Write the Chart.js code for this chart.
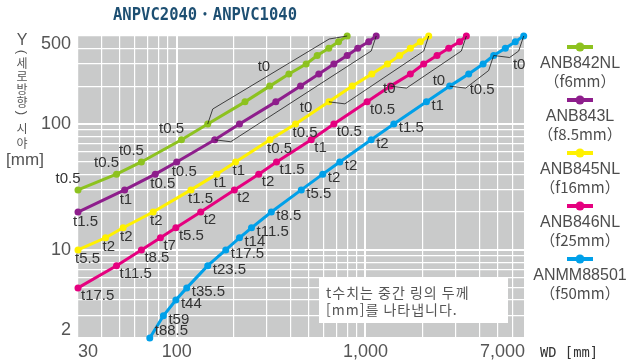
<!DOCTYPE html>
<html lang="ko">
<head>
<meta charset="utf-8">
<title>ANPVC2040・ANPVC1040</title>
<script src="https://cdn.jsdelivr.net/npm/chart.js@4.4.1/dist/chart.umd.min.js"></script>
<style>
  html, body { margin: 0; padding: 0; background: #fff; }
  canvas { display: block; }
</style>
</head>
<body>
<canvas id="fovChart" width="628" height="364"></canvas>
<script>
'use strict';

const lensNames = ['ANB842NL', 'ANB843L', 'ANB845NL', 'ANB846NL', 'ANMM88501'];
const lensFocal = ['（f6mm）', '（f8.5mm）', '（f16mm）', '（f25mm）', '（f50mm）'];
const lensColors = ['#8dc21f', '#8e1e8c', '#fff100', '#e5007f', '#00a0e9'];

// WD [mm], vertical field of view Y [mm], middle ring thickness at each point
const wd842 = [30, 48, 65, 106, 146, 230, 311, 393, 485, 555, 639, 720, 800];
const fov842 = [30, 40, 50, 75, 100, 150, 200, 250, 300, 350, 400, 450, 500];
const ring842 = ['t0.5', 't0.5', 't0.5', 't0.5'];
const ringGroups842 = [{ from: 4, to: 12, text: 't0' }];

const wd843 = [30, 53, 77, 100, 159, 215, 335, 453, 566, 680, 800, 910, 1040, 1140];
const fov843 = [20, 30, 40, 50, 75, 100, 150, 200, 250, 300, 350, 400, 450, 500];
const ring843 = ['t1.5', 't1', 't0.5', 't0.5'];
const ringGroups843 = [{ from: 4, to: 13, text: 't0' }];

const wd845 = [30, 42, 52, 75, 119, 163, 205, 312, 426, 640, 851, 1080, 1307, 1517, 1729, 1953, 2163];
const fov845 = [10, 12.5, 15, 20, 30, 40, 50, 75, 100, 150, 200, 250, 300, 350, 400, 450, 500];
const ring845 = ['t5.5', 't2', 't2', 't2', 't1.5', 't1', 't1', 't0.5', 't0.5'];
const ringGroups845 = [{ from: 9, to: 16, text: 't0' }];

const wd846 = [30, 48, 65, 82, 99, 134, 202, 272, 338, 516, 680, 1020, 1356, 1729, 2033, 2393, 2760, 3155, 3423];
const fov846 = [5, 7.5, 10, 12.5, 15, 20, 30, 40, 50, 75, 100, 150, 200, 250, 300, 350, 400, 450, 500];
const ring846 = ['t17.5', 't11.5', 't8.5', 't7', 't5.5', 't2', 't2', 't2', 't1.5', 't1', 't0.5', 't0.5'];
const ringGroups846 = [{ from: 12, to: 18, text: 't0' }];

const wd88501 = [72, 85, 99, 113, 146, 182, 215, 249, 317, 457, 594, 731, 1072, 1413, 2104, 2794, 3522, 4198, 4776, 5508, 6220, 6890];
const fov88501 = [2, 3, 4, 5, 7.5, 10, 12.5, 15, 20, 30, 40, 50, 75, 100, 150, 200, 250, 300, 350, 400, 450, 500];
const ring88501 = ['t88.5', 't59', 't44', 't35.5', 't23.5', 't17.5', 't14', 't11.5', 't8.5', 't5.5', 't2', 't2', 't2', 't1.5', 't1'];
const ringGroups88501 = [{ from: 15, to: 18, text: 't0.5' }, { from: 18, to: 21, text: 't0' }];

const xTickLabels = [30, 100, 1000, 7000];
const yTickLabels = [2, 10, 100, 500];

const noteLines = ['t수치는 중간 링의 두께', '[mm]를 나타냅니다.'];

const SANS = '"Liberation Sans", Arial, sans-serif';
const KR = '"Noto Sans CJK KR", "Liberation Sans", sans-serif';
const JP = '"Noto Sans CJK JP", "Liberation Sans", sans-serif';

// where the thickness labels sit around each point
const ringStyle = [
  { align: 'center', dx: -10, dy: -11, side: 'above' },
  { align: 'left', dx: -5, dy: 10, side: 'below' },
  { align: 'left', dx: -3, dy: 9, side: 'below' },
  { align: 'left', dx: 3, dy: 8, side: 'below' },
  { align: 'left', dx: 5, dy: 4, side: 'below' }
];

const series = [
  [wd842, fov842, ring842, ringGroups842],
  [wd843, fov843, ring843, ringGroups843],
  [wd845, fov845, ring845, ringGroups845],
  [wd846, fov846, ring846, ringGroups846],
  [wd88501, fov88501, ring88501, ringGroups88501]
];

const datasets = series.map(([xs, ys, rings, groups], i) => ({
  label: lensNames[i],
  focal: lensFocal[i],
  data: xs.map((x, k) => ({ x: x, y: ys[k] })),
  rings: rings,
  groups: groups,
  ringStyle: ringStyle[i],
  borderColor: lensColors[i],
  backgroundColor: lensColors[i],
  pointBackgroundColor: lensColors[i],
  borderWidth: 3,
  pointRadius: 3.5,
  pointBorderWidth: 0,
  tension: 0,
  clip: false
}));

// grid at every 1..9 step of each decade
function logGrid(min, max) {
  const out = [];
  for (let d = 1; d <= 10000; d *= 10) {
    for (let m = 1; m < 10; m++) {
      const v = m * d;
      if (v >= min && v <= max) out.push({ value: v });
    }
  }
  return out;
}

function isDecade(v) {
  return Math.abs(Math.log10(v) - Math.round(Math.log10(v))) < 1e-9;
}

function drawCondensed(ctx, text, x, y, width) {
  const w = ctx.measureText(text).width;
  ctx.save();
  ctx.translate(x, y);
  ctx.scale(width / w, 1);
  ctx.fillText(text, 0, 0);
  ctx.restore();
}

function drawTurned(ctx, text, x, y) {
  ctx.save();
  ctx.translate(x, y);
  ctx.rotate(Math.PI / 2);
  ctx.fillText(text, 0, 0);
  ctx.restore();
}

const plotBackground = {
  id: 'plotBackground',
  beforeDraw(chart) {
    const { ctx, chartArea: a } = chart;
    ctx.save();
    ctx.fillStyle = '#c9caca';
    ctx.fillRect(a.left, a.top, a.right - a.left, a.bottom - a.top);
    ctx.restore();
  }
};

const ringLabels = {
  id: 'ringLabels',
  afterDatasetsDraw(chart) {
    const { ctx, chartArea } = chart;
    ctx.save();
    ctx.font = '15px ' + SANS;
    ctx.fillStyle = '#333';
    ctx.textBaseline = 'middle';
    chart.data.datasets.forEach((ds, di) => {
      const pts = chart.getDatasetMeta(di).data;
      const st = ds.ringStyle;
      ctx.textAlign = st.align;
      ds.rings.forEach((txt, k) => {
        const p = pts[k];
        const y = Math.min(p.y + st.dy, chartArea.bottom - 7);
        ctx.fillText(txt, p.x + st.dx, y);
      });

      // bracket lines for runs of points sharing one thickness
      ctx.strokeStyle = '#1a1a1a';
      ctx.lineWidth = 0.8;
      ds.groups.forEach(g => {
        const a = pts[g.from], b = pts[g.to];
        let p1, p2, lx, ly;
        if (st.side === 'above') {
          p1 = { x: a.x + 5, y: a.y - 15 };
          p2 = { x: b.x - 18, y: b.y + 3 };
          lx = (p1.x + p2.x) / 2 - 7;
          ly = (p1.y + p2.y) / 2 - 7;
        } else {
          p1 = { x: a.x + 16, y: a.y + 2 };
          p2 = { x: b.x - 5, y: b.y + 15 };
          lx = (p1.x + p2.x) / 2 + 5;
          ly = (p1.y + p2.y) / 2 + 11;
        }
        ctx.beginPath();
        ctx.moveTo(a.x, a.y);
        ctx.lineTo(p1.x, p1.y);
        ctx.lineTo(p2.x, p2.y);
        ctx.lineTo(b.x, b.y);
        ctx.stroke();
        ctx.textAlign = 'center';
        ctx.fillText(g.text, lx, ly);
        ctx.textAlign = st.align;
      });
    });
    ctx.restore();
  }
};

const decorations = {
  id: 'decorations',
  afterDraw(chart) {
    const { ctx } = chart;
    ctx.save();

    // title
    ctx.fillStyle = '#1d4f72';
    ctx.textAlign = 'left';
    ctx.textBaseline = 'middle';
    ctx.font = 'bold 18px "DejaVu Sans Mono", monospace';
    drawCondensed(ctx, 'ANPVC2040・ANPVC1040', 113, 15, 184);

    // x axis title
    ctx.fillStyle = '#333';
    ctx.font = '14px "DejaVu Sans Mono", monospace';
    drawCondensed(ctx, 'WD [mm]', 540, 353, 58);

    // y axis title, stacked vertically
    ctx.fillStyle = '#555';
    ctx.textAlign = 'center';
    ctx.font = '16px ' + SANS;
    ctx.fillText('Y', 22, 41);
    ctx.font = '13px ' + SANS;
    drawTurned(ctx, '(', 22, 52);
    drawTurned(ctx, ')', 22, 113);
    ctx.font = '12px ' + KR;
    [['세', 63], ['로', 76], ['방', 89], ['향', 102], ['시', 128], ['야', 143]]
      .forEach(([ch, y]) => ctx.fillText(ch, 22, y));
    ctx.font = '17px ' + SANS;
    ctx.fillText('[mm]', 25, 160);

    // legend
    chart.data.datasets.forEach((ds, i) => {
      const cx = 580, y = 47 + i * 53;
      ctx.strokeStyle = ds.borderColor;
      ctx.lineWidth = 4;
      ctx.beginPath();
      ctx.moveTo(cx - 13, y);
      ctx.lineTo(cx + 13, y);
      ctx.stroke();
      ctx.fillStyle = ds.borderColor;
      ctx.beginPath();
      ctx.arc(cx, y, 4.5, 0, Math.PI * 2);
      ctx.fill();
      ctx.fillStyle = '#4d4d4d';
      ctx.font = '16px ' + SANS;
      ctx.fillText(ds.label, cx, y + 17);
      ctx.font = '15px ' + JP;
      ctx.fillText(ds.focal, cx, y + 34);
    });

    // note box
    ctx.fillStyle = '#fff';
    ctx.fillRect(319, 278, 189, 45);
    ctx.fillStyle = '#555';
    ctx.textAlign = 'left';
    ctx.font = '14px ' + KR;
    if ('letterSpacing' in ctx) ctx.letterSpacing = '1px';
    ctx.fillText(noteLines[0], 326, 293);
    ctx.fillText(noteLines[1], 326, 310);
    ctx.restore();
  }
};

const gridLine = ctx => (ctx.tick && isDecade(ctx.tick.value) ? 2 : 1.2);

new Chart(document.getElementById('fovChart').getContext('2d'), {
  type: 'line',
  data: { datasets: datasets },
  options: {
    responsive: false,
    animation: false,
    devicePixelRatio: 1,
    layout: { padding: { top: 36, right: 103, left: 0, bottom: 0 } },
    plugins: {
      legend: { display: false },
      tooltip: { enabled: false }
    },
    scales: {
      x: {
        type: 'logarithmic',
        min: 30,
        max: 7000,
        afterBuildTicks: s => { s.ticks = logGrid(30, 7000); },
        afterFit: s => { s.height = 26; },
        grid: { color: '#fff', lineWidth: gridLine, drawTicks: false },
        border: { display: false },
        ticks: {
          autoSkip: false,
          maxRotation: 0,
          minRotation: 0,
          align: 'inner',
          padding: 3,
          color: '#555',
          font: { family: SANS, size: 18 },
          callback: v => (xTickLabels.includes(v) ? v.toLocaleString('en-US') : '')
        }
      },
      y: {
        type: 'logarithmic',
        min: 2,
        max: 500,
        afterBuildTicks: s => { s.ticks = logGrid(2, 500); },
        afterFit: s => { s.width = 78; },
        grid: { color: '#fff', lineWidth: gridLine, drawTicks: false },
        border: { display: false },
        ticks: {
          autoSkip: false,
          padding: 7,
          color: '#555',
          font: { family: SANS, size: 18, lineHeight: 0.9 },
          // end labels are pulled inside the plot edge
          callback: v => {
            if (!yTickLabels.includes(v)) return '';
            if (v === 500) return ['', '500'];
            if (v === 2) return ['2', ''];
            return String(v);
          }
        }
      }
    }
  },
  plugins: [plotBackground, ringLabels, decorations]
});
</script>
</body>
</html>
